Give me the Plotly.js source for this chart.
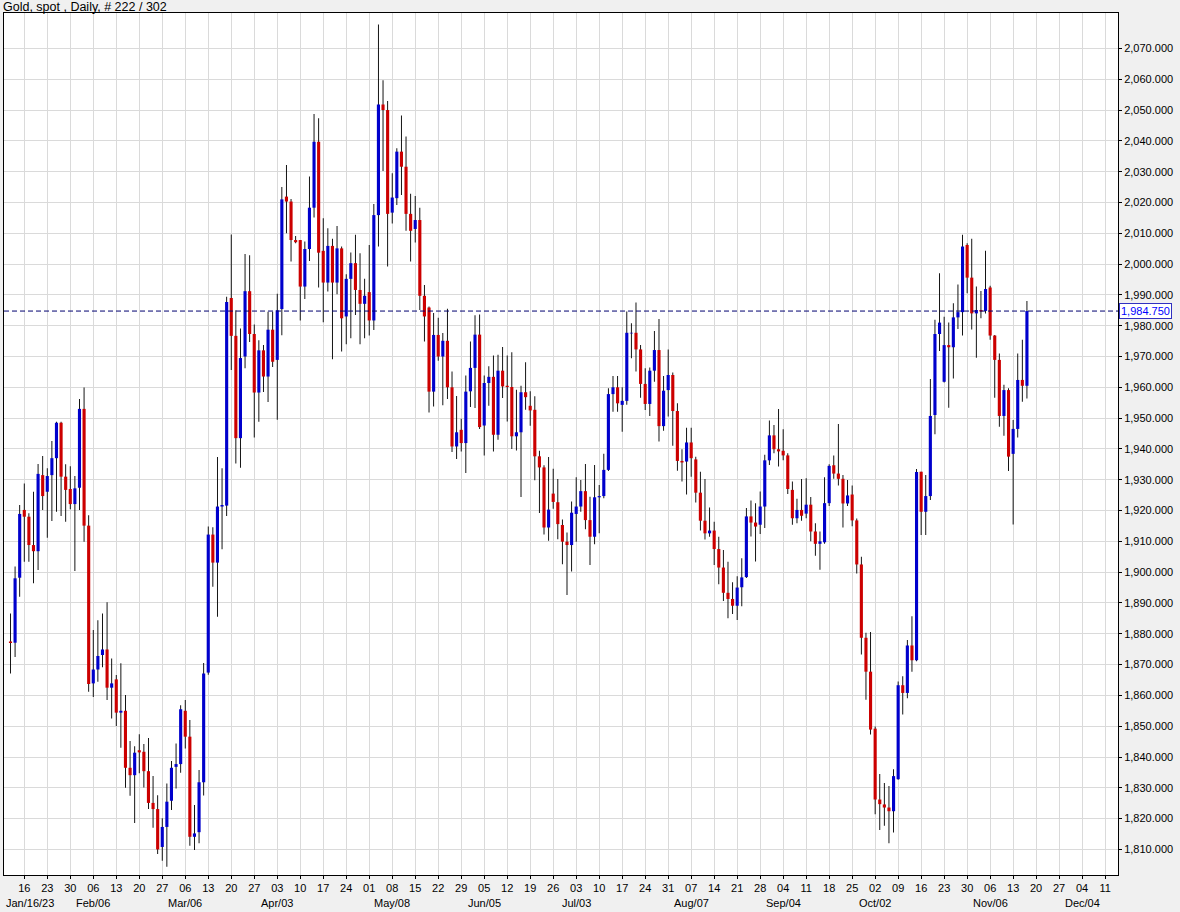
<!DOCTYPE html>
<html><head><meta charset="utf-8">
<script src="https://cdn.plot.ly/plotly-3.0.1.min.js"></script>
<style>html,body{margin:0;padding:0;background:#f0f0f0;}#chart{width:1180px;height:912px;}</style>
</head><body><div id="chart"></div>
<script>
// Daily OHLC, Gold spot, 2023-01-11 .. 2023-11-16 (weekdays)
const openP = [1877.5,1877.1,1898.2,1920.2,1918.0,1908.8,1906.8,1931.5,1926.1,1931.5,1937.0,1948.5,1931.0,1927.0,1922.1,1927.4,1953.0,1915.1,1863.9,1868.4,
1873.1,1874.9,1862.5,1865.2,1854.4,1855.0,1836.5,1834.1,1842.2,1841.7,1835.4,1825.1,1823.1,1810.8,1817.3,1825.8,1836.8,1837.7,1855.0,1846.6,
1814.1,1815.6,1831.8,1867.4,1912.2,1903.1,1921.3,1921.6,1989.0,1976.7,1943.5,1970.0,1991.2,1977.3,1958.3,1972.0,1963.5,1978.7,1968.9,1985.4,
2021.9,2020.3,2007.8,2007.8,1992.7,2004.9,2018.3,2039.7,2004.3,1994.0,2005.9,1994.0,2005.1,1983.0,1995.2,2000.3,1991.6,1987.1,1990.9,1981.7,
2015.9,2051.8,2050.0,2016.7,2021.4,2036.5,2031.6,2016.3,2011.4,2014.3,1989.7,1985.9,1958.6,1977.0,1970.0,1975.1,1960.0,1940.8,1946.2,1941.9,
1958.7,1966.3,1977.1,1947.6,1961.4,1963.4,1944.6,1965.4,1960.5,1960.1,1944.1,1945.4,1958.4,1954.0,1952.7,1937.6,1934.0,1914.5,1925.5,1922.7,
1915.3,1909.9,1908.8,1918.9,1921.3,1926.3,1916.9,1911.5,1924.3,1924.7,1933.2,1957.8,1960.0,1954.3,1955.6,1977.5,1977.7,1972.3,1961.1,1954.6,
1965.4,1972.1,1947.4,1959.1,1964.0,1952.3,1936.1,1935.9,1942.1,1936.6,1925.8,1916.7,1912.6,1913.5,1907.5,1901.5,1893.3,1891.3,1889.1,1895.1,
1898.4,1918.1,1916.1,1915.4,1921.3,1936.3,1944.4,1939.9,1939.4,1937.9,1926.7,1917.5,1920.2,1919.0,1921.9,1913.2,1909.2,1909.7,1922.4,1934.7,
1932.0,1930.3,1922.3,1925.2,1916.8,1902.5,1878.7,1867.7,1849.2,1826.2,1824.6,1823.6,1822.4,1832.8,1863.3,1860.8,1876.2,1871.4,1932.6,1919.6,
1924.7,1951.0,1977.3,1961.8,1973.7,1973.0,1982.7,1984.4,2006.2,1995.6,1984.0,1985.1,1984.8,1992.4,1976.8,1968.9,1950.7,1959.1,1938.4,1946.5,
1962.4,1960.5];
const highP = [1886.6,1901.8,1921.8,1928.8,1919.1,1926.1,1935.1,1937.7,1933.7,1942.6,1948.8,1948.8,1935.0,1934.4,1931.2,1956.2,1959.9,1918.5,1881.2,1884.4,
1886.6,1890.2,1872.0,1866.6,1870.4,1860.1,1845.2,1843.5,1847.4,1844.2,1846.2,1833.8,1827.6,1820.1,1831.4,1838.7,1844.4,1856.8,1858.5,1852.0,
1824.4,1835.8,1870.5,1914.8,1914.6,1937.4,1933.7,1989.4,2009.6,1985.0,1979.1,2003.3,2002.9,1980.4,1975.3,1973.7,1984.5,1984.5,1990.4,2025.0,
2032.2,2021.1,2009.1,2007.8,2007.3,2028.4,2048.7,2047.3,2014.9,2011.6,2008.2,2012.4,2005.7,1996.7,2003.8,2009.5,2003.5,1995.2,2006.2,2019.5,
2077.8,2059.7,2052.9,2029.5,2037.6,2048.2,2041.4,2022.8,2022.1,2018.3,1993.2,1986.2,1984.1,1982.6,1977.6,1985.5,1965.1,1957.2,1949.8,1963.8,
1974.9,1983.4,1983.6,1963.8,1966.8,1970.3,1970.6,1973.1,1970.3,1971.4,1959.2,1960.5,1968.1,1958.7,1957.1,1939.4,1934.7,1937.4,1933.6,1930.2,
1917.1,1912.9,1922.9,1930.8,1929.9,1935.1,1924.5,1934.8,1928.3,1938.4,1959.7,1963.7,1963.7,1960.0,1984.6,1980.8,1987.5,1973.7,1966.2,1966.4,
1978.3,1982.2,1963.7,1972.3,1964.8,1954.8,1939.9,1946.9,1946.9,1937.5,1932.6,1930.2,1921.0,1916.4,1911.5,1907.2,1903.4,1896.7,1898.7,1904.5,
1920.8,1923.3,1922.4,1926.2,1938.1,1949.2,1947.8,1953.0,1946.4,1938.6,1929.4,1923.8,1930.2,1930.5,1924.4,1915.9,1913.2,1930.8,1935.0,1937.9,
1948.1,1931.5,1929.9,1928.1,1917.4,1905.0,1880.3,1880.6,1849.9,1834.5,1831.6,1830.6,1836.0,1864.5,1866.2,1878.0,1885.7,1933.5,1932.6,1931.5,
1962.7,1981.9,1997.0,1982.9,1981.0,1987.3,1993.4,2009.5,2006.8,2008.2,1992.7,1991.3,2004.3,1993.0,1977.0,1971.0,1960.8,1959.7,1949.4,1971.0,
1975.4,1988.0];
const lowP = [1867.1,1872.5,1892.0,1903.4,1903.4,1896.4,1900.7,1920.2,1911.2,1916.6,1919.6,1918.2,1916.4,1920.4,1900.4,1920.2,1909.9,1861.2,1859.5,1864.4,
1869.1,1858.5,1852.5,1850.1,1843.0,1830.0,1827.4,1818.6,1834.7,1830.1,1823.1,1817.0,1808.5,1806.3,1804.4,1822.8,1829.8,1834.9,1842.8,1811.2,
1809.8,1812.0,1827.5,1866.7,1895.3,1885.5,1907.4,1918.2,1965.6,1935.3,1933.9,1966.2,1974.7,1943.7,1948.8,1958.5,1955.2,1966.6,1949.5,1976.9,
2010.0,2000.8,2006.8,1981.7,1988.7,2001.0,2015.1,1992.4,1981.1,1991.1,1969.1,1990.2,1971.6,1974.0,1975.9,1983.5,1974.0,1975.9,1976.8,1978.6,
2005.7,2030.2,1999.2,2013.2,2019.2,2022.4,2010.8,2000.8,2007.0,1985.1,1974.9,1951.8,1953.8,1968.6,1954.2,1956.2,1939.0,1936.7,1939.2,1932.2,
1953.6,1953.3,1946.5,1937.9,1954.0,1939.2,1943.0,1956.5,1948.9,1940.0,1939.5,1924.4,1952.7,1947.5,1929.8,1919.2,1912.2,1910.2,1920.6,1910.7,
1902.6,1892.6,1900.2,1909.9,1919.6,1913.9,1902.3,1909.1,1912.6,1924.0,1932.8,1952.1,1952.1,1945.6,1954.3,1969.4,1965.1,1956.6,1952.6,1950.7,
1961.8,1942.4,1945.9,1950.5,1941.0,1932.9,1929.4,1925.2,1931.0,1922.6,1913.5,1910.6,1911.5,1902.3,1896.1,1890.6,1885.0,1886.4,1884.5,1888.9,
1898.1,1911.6,1903.5,1912.4,1914.3,1934.8,1938.6,1934.3,1936.3,1925.4,1915.4,1915.9,1916.7,1917.5,1910.0,1905.3,1900.8,1909.2,1921.5,1930.3,
1928.1,1914.5,1921.5,1914.9,1899.6,1873.3,1858.6,1847.3,1821.4,1816.3,1817.7,1812.0,1815.5,1832.6,1853.8,1859.1,1867.7,1871.1,1912.1,1912.1,
1923.4,1944.8,1971.8,1961.6,1953.4,1962.9,1978.9,1976.8,1990.5,1978.8,1969.6,1982.4,1984.0,1975.4,1956.6,1947.2,1944.3,1932.8,1915.5,1943.7,
1955.3,1956.4];
const closeP = [1877.0,1898.0,1918.9,1918.0,1908.8,1906.8,1931.9,1924.7,1931.2,1937.0,1948.5,1931.0,1926.7,1922.1,1927.2,1953.0,1915.1,1863.7,1868.4,1872.8,
1874.9,1862.5,1863.9,1854.4,1855.0,1836.5,1834.1,1841.4,1841.5,1835.4,1825.1,1823.1,1810.0,1817.3,1825.5,1836.5,1837.7,1855.5,1846.6,1814.1,
1815.2,1831.8,1867.1,1912.2,1903.1,1921.3,1921.8,1987.7,1976.7,1943.5,1969.5,1991.2,1977.3,1958.3,1972.0,1963.5,1978.7,1968.3,1985.0,2021.0,
2020.3,2007.8,2007.1,1992.7,2004.9,2018.3,2039.7,2003.7,1994.0,2005.9,1994.0,2005.1,1982.4,1995.2,2000.3,1991.6,1987.1,1989.7,1981.7,2015.9,
2051.8,2050.0,2016.3,2021.6,2036.5,2031.6,2016.3,2010.8,2014.3,1989.7,1983.0,1958.6,1977.0,1970.0,1975.1,1960.0,1940.8,1945.4,1941.9,1958.6,
1966.3,1977.1,1947.1,1961.4,1963.4,1944.6,1965.4,1960.3,1960.1,1944.1,1945.4,1958.4,1956.8,1952.5,1937.6,1934.0,1914.5,1920.3,1922.8,1915.6,
1909.9,1908.8,1919.3,1921.3,1926.3,1916.9,1911.5,1924.3,1924.7,1933.2,1957.8,1960.0,1954.8,1955.6,1977.7,1977.7,1972.3,1961.1,1954.6,1965.4,
1972.1,1947.4,1958.9,1964.0,1952.3,1936.1,1935.6,1942.1,1937.0,1925.8,1916.7,1912.6,1913.5,1907.5,1901.5,1893.3,1891.3,1889.1,1895.0,1898.3,
1918.1,1916.1,1914.8,1921.3,1936.3,1944.4,1939.9,1939.2,1937.9,1927.0,1917.5,1920.2,1918.3,1921.9,1913.2,1909.2,1910.0,1922.4,1934.5,1932.0,
1930.3,1922.3,1924.9,1916.8,1902.5,1878.7,1867.7,1848.9,1826.2,1824.7,1823.6,1822.4,1833.8,1863.3,1860.8,1876.2,1871.4,1932.5,1919.6,1924.7,
1950.7,1977.3,1981.0,1973.7,1973.0,1982.7,1984.4,2005.7,1995.6,1984.0,1985.1,1984.6,1991.9,1976.8,1968.9,1950.7,1959.1,1937.5,1946.5,1962.4,
1960.5,1984.75];

// first candle sits 3 trading days before the first labelled Monday
const firstOffset = -3;
const dayLabels = ['16','23','30','06','13','20','27','06','13','20','27','03','10','17','24','01','08','15','22','29',
 '05','12','19','26','03','10','17','24','31','07','14','21','28','04','11','18','25','02','09','16','23','30',
 '06','13','20','27','04','11'];
const monthLabels = ['Jan/16/23','','','Feb/06','','','','Mar/06','','','','Apr/03','','','','','May/08','','','',
 'Jun/05','','','','Jul/03','','','','','Aug/07','','','','Sep/04','','','','Oct/02','','','','',
 'Nov/06','','','','Dec/04',''];
const titleText = 'Gold, spot , Daily, # 222 / 302';
const yTicks = []; for (let v = 1810; v <= 2070; v += 10) yTicks.push(v);

const UP = '#0000cc', DOWN = '#cc0000';
const xs = openP.map((_, i) => i + firstOffset);

const upX=[],upB=[],upH=[],dnX=[],dnB=[],dnH=[];
openP.forEach((o,i)=>{
  const c = closeP[i];
  if (c >= o) { upX.push(xs[i]); upB.push(o); upH.push(c-o); }
  else { dnX.push(xs[i]); dnB.push(c); dnH.push(o-c); }
});

const wick = {type:'bar', x:xs, base:lowP, y:highP.map((h,i)=>h-lowP[i]), width:0.2,
  marker:{color:'#000000', line:{width:0}}, hoverinfo:'skip', showlegend:false};
const upBody = {type:'bar', x:upX, base:upB, y:upH, width:0.68,
  marker:{color:UP, line:{width:0}}, hoverinfo:'skip', showlegend:false};
const dnBody = {type:'bar', x:dnX, base:dnB, y:dnH, width:0.68,
  marker:{color:DOWN, line:{width:0}}, hoverinfo:'skip', showlegend:false};

const tickvals = dayLabels.map((_, k) => k*5);
const last = closeP[closeP.length-1];
const lastTxt = last.toLocaleString('en-US',{minimumFractionDigits:3,maximumFractionDigits:3});

const FONT = 'Liberation Sans, Arial, sans-serif';
const annotations = [];
monthLabels.forEach((m,k)=>{
  if (!m) return;
  annotations.push({xref:'x', x:tickvals[k], yref:'paper', y:0, yanchor:'top', yshift:-20,
    xanchor:'center', xshift:(k===0?6:0),
    text:m, showarrow:false, font:{family:FONT,size:11,color:'#000'}});
});
annotations.push({xref:'paper', x:1, xanchor:'left', xshift:1, yref:'y', y:last, yanchor:'middle',
    text:lastTxt, showarrow:false, font:{family:FONT, size:11, color:'#0000ff'},
    bgcolor:'#ffffff', bordercolor:'#3030c0', borderwidth:1, borderpad:1});

const layout = {
  width:1180, height:912,
  margin:{l:4, r:62, t:13, b:37, pad:0},
  paper_bgcolor:'#f0f0f0', plot_bgcolor:'#ffffff',
  barmode:'overlay', showlegend:false,
  font:{family:FONT, size:11, color:'#000'},
  title:{text:titleText, x:3/1180, xanchor:'left', xref:'container', y:1-6.5/912, yanchor:'middle', yref:'container',
    font:{family:FONT, size:12.5, color:'#000'}},
  xaxis:{type:'linear', range:[-4.41, 237.8], tickmode:'array', tickvals:tickvals, ticktext:dayLabels,
    tickangle:0, showgrid:true, gridcolor:'#dadada', gridwidth:1, zeroline:false,
    showline:true, linecolor:'#000', linewidth:1, mirror:true,
    ticks:'outside', ticklen:3, tickcolor:'#000', tickfont:{family:FONT,size:11,color:'#000'}, fixedrange:true},
  yaxis:{side:'right', range:[1801.7, 2081.5], tickmode:'array', tickvals:yTicks,
    tickformat:',.3f', showgrid:true, gridcolor:'#dadada', gridwidth:1, zeroline:false,
    showline:true, linecolor:'#000', linewidth:1, mirror:true,
    ticks:'outside', ticklen:3, tickcolor:'#000', tickfont:{family:FONT,size:11,color:'#000'}, fixedrange:true},
  shapes:[{type:'line', xref:'paper', x0:0, x1:1, yref:'y', y0:last, y1:last,
    line:{color:'#000070', width:1, dash:'5px,3px'}, layer:'above'}],
  annotations:annotations
};
Plotly.newPlot('chart', [wick, upBody, dnBody], layout, {displayModeBar:false, staticPlot:true});
</script></body></html>
